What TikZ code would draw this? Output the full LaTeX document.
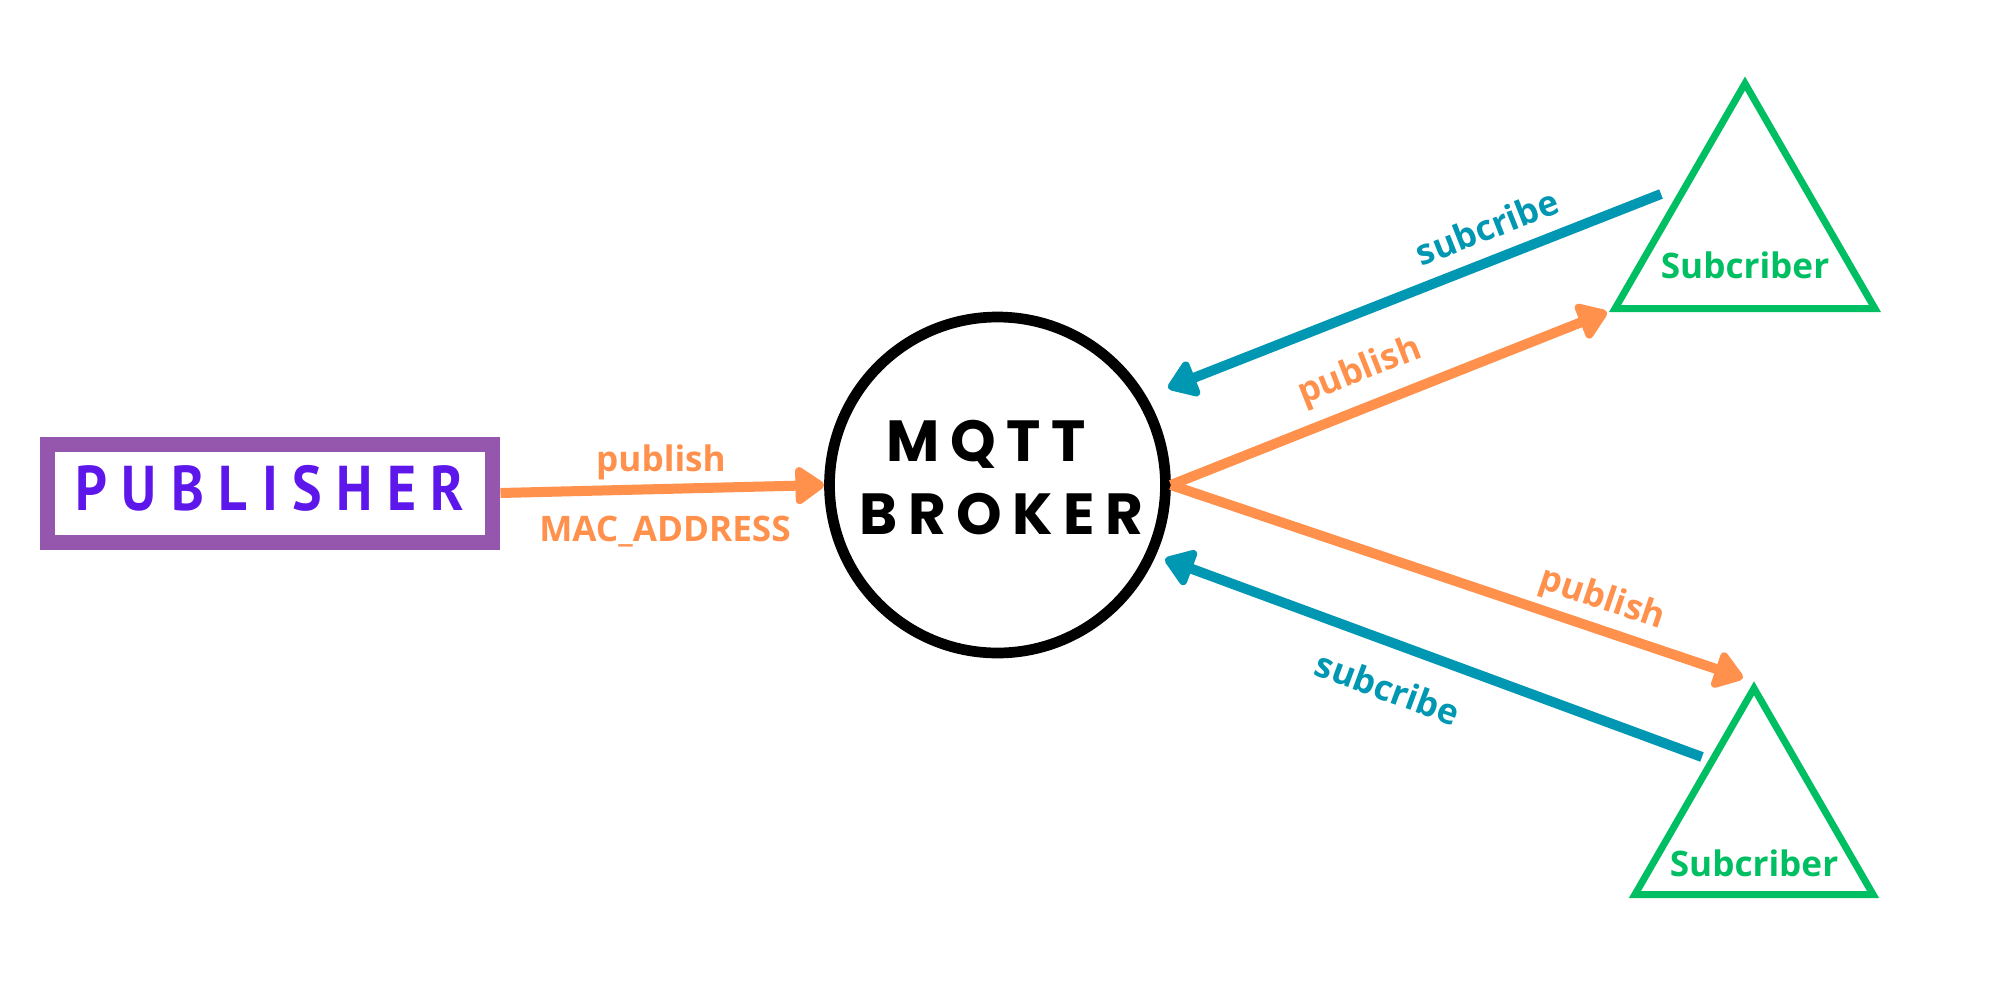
\documentclass[tikz,border=0pt]{standalone}
\usepackage{fontspec}
\usetikzlibrary{arrows.meta,shapes.geometric}
\newfontfamily\labelfont{Open Sans}
\newfontfamily\pubfont[LetterSpace=23,FakeStretch=0.88]{PT Sans}
\newfontfamily\brokerfont[LetterSpace=18]{Poppins}
\definecolor{pubpurple}{HTML}{9557AE}
\definecolor{pubtext}{HTML}{5E17EB}
\definecolor{puborange}{HTML}{FF914D}
\definecolor{subblue}{HTML}{0097B2}
\definecolor{subgreen}{HTML}{00BF63}
\begin{document}
\begin{tikzpicture}[x=0.1mm,y=-0.1mm,
  pubbox/.style={draw=pubpurple, line width=1.5mm, minimum width=44.6mm, minimum height=9.8mm, inner sep=0pt, text=pubtext, font=\pubfont\bfseries\fontsize{18pt}{21pt}\selectfont},
  brokernode/.style={circle, draw=black, line width=1.07mm, minimum size=33.6mm, inner sep=0pt},
  brokertext/.style={inner sep=0pt, font=\brokerfont\bfseries\fontsize{16.5pt}{19pt}\selectfont},
  subtri/.style={regular polygon, regular polygon sides=3, draw=subgreen, line width=0.7mm, inner sep=0pt},
  subtext/.style={inner sep=0pt, text=subgreen, font=\labelfont\bfseries\fontsize{10pt}{12pt}\selectfont},
  lbl/.style={inner sep=0pt, font=\labelfont\bfseries\fontsize{10pt}{12pt}\selectfont},
  pubarrow/.style={draw=puborange, line width=1mm, -{Triangle[length=3.2mm, width=4.2mm, round]}},
  subarrow/.style={draw=subblue, line width=1mm, -{Triangle[length=3.2mm, width=4.2mm, round]}}
]
\useasboundingbox (0,0) rectangle (2000,1000);
\fill[white] (0,0) rectangle (2000,1000);

% nodes
\node[pubbox] (pub) at (270,493) {\raisebox{0.5mm}[\height][\depth]{PUBLISHER}};
\node[brokernode] (broker) at (997.5,485) {};
\node[brokertext] (mqtt) at (986,444.5) {MQTT};
\node[brokertext] (brk) at (1001.5,514) {BROKER};
\node[subtri, minimum size=30mm] (tri1) at (1745,233.5) {};
\node[subtri, minimum size=27.5mm] (tri2) at (1754,825.8) {};
\node[subtext] (sub1) at (1745,265) {Subcriber};
\node[subtext] (sub2) at (1754,863) {Subcriber};

% free connector ends
\coordinate (s1from) at (1661,194);
\coordinate (s1to) at (1168,388);
\coordinate (p1to) at (1607,312);
\coordinate (p2to) at (1743,678);
\coordinate (s2from) at (1702,757);
\coordinate (s2to) at (1165,559);

% connectors
\draw[pubarrow] (pub.east) -- (broker.west);
\draw[subarrow] (s1from) -- (s1to);
\draw[pubarrow] (broker.east) -- (p1to);
\draw[pubarrow] (broker.east) -- (p2to);
\draw[subarrow] (s2from) -- (s2to);

% labels
\node[lbl, text=puborange] (lpub) at (661,462) {publish};
\node[lbl, text=puborange] (lmac) at (665,532) {MAC\_ADDRESS};
\node[lbl, text=puborange, rotate=21.6] (lp1) at (1360,372) {publish};
\node[lbl, text=subblue, rotate=21.5] (ls1) at (1487,227) {subcribe};
\node[lbl, text=puborange, rotate=-18.6] (lp2) at (1602,600) {publish};
\node[lbl, text=subblue, rotate=-20.2] (ls2) at (1388,688) {subcribe};
\end{tikzpicture}
\end{document}
